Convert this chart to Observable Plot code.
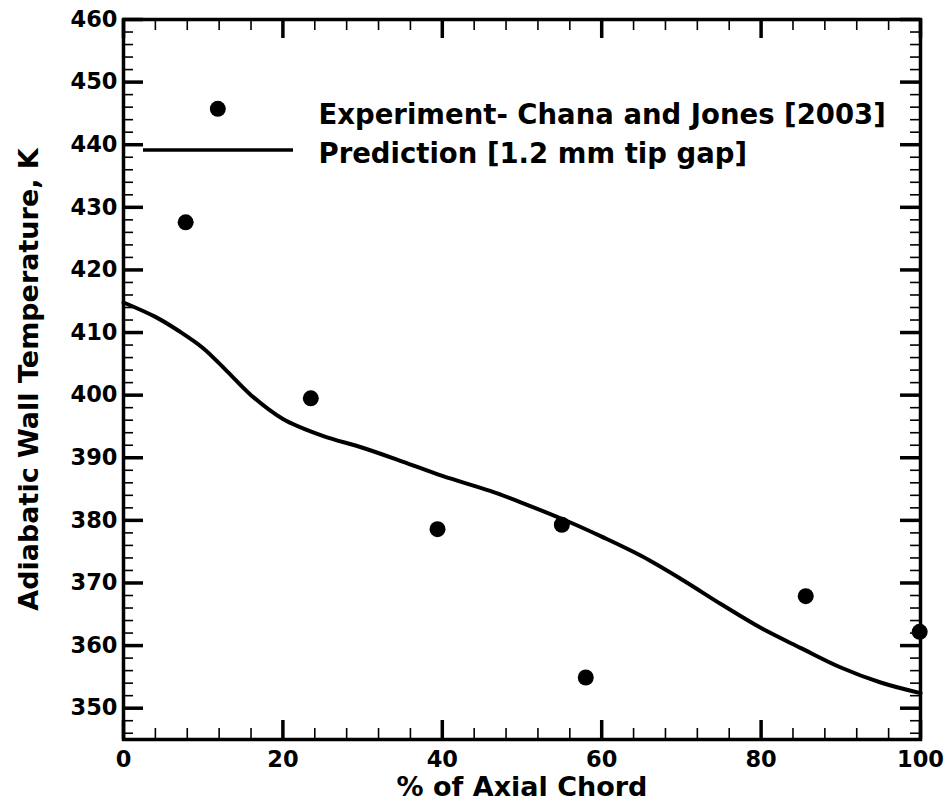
<!DOCTYPE html>
<html>
<head>
<meta charset="utf-8">
<script src="https://cdn.jsdelivr.net/npm/d3@7"></script>
<script src="https://cdn.jsdelivr.net/npm/@observablehq/plot@0.6"></script>
<style>
  html, body { margin: 0; padding: 0; background: #fff; }
  #chart { width: 948px; height: 808px; }
</style>
</head>
<body>
<div id="chart"></div>
<script>
// ---- data ----
const expX = [7.8, 23.5, 39.4, 55.0, 58.0, 85.6, 99.9];
const expY = [427.6, 399.5, 378.6, 379.3, 354.9, 367.9, 362.2];

const predX = [0, 4, 7, 10, 13, 16, 20, 25, 30, 35, 40, 46, 50, 56, 60, 65, 70, 75, 80, 85, 90, 95, 100];
const predY = [414.8, 412.5, 410.2, 407.5, 403.8, 400.0, 396.2, 393.5, 391.6, 389.4, 387.1, 384.7, 382.8, 379.7, 377.4, 374.3, 370.6, 366.6, 362.8, 359.6, 356.5, 354.1, 352.4];

const xTicks = [0, 20, 40, 60, 80, 100];
const yTicks = [350, 360, 370, 380, 390, 400, 410, 420, 430, 440, 450, 460];
const xMinorStep = 4;
const yMinorStep = 2;

const xTitle = "% of Axial Chord";
const yTitle = "Adiabatic Wall Temperature, K";
const legendLabels = ["Experiment- Chana and Jones [2003]", "Prediction [1.2 mm tip gap]"];

// ---- layout ----
const W = 948, H = 808;
const mL = 123, mR = 28, mT = 19, mB = 69;
const plotW = W - mL - mR, plotH = H - mT - mB;

const experiment = expX.map((x, i) => ({x, y: expY[i]}));
const prediction = predX.map((x, i) => ({x, y: predY[i]}));
const xMinor = d3.range(0, 100 + 1e-9, xMinorStep).filter(v => !xTicks.includes(v));
const yMinor = d3.range(346, 460 + 1e-9, yMinorStep).filter(v => !yTicks.includes(v));

const majorW = 3.5, minorW = 1.6;
const xMajLen = 19, xMinLen = 11, yMajLen = 20, yMinLen = 10;

const legendLine = () => {
  const g = d3.create("svg:g");
  g.append("line")
    .attr("x1", 143).attr("x2", 293)
    .attr("y1", 150).attr("y2", 150)
    .attr("stroke", "black").attr("stroke-width", 3.5);
  return g.node();
};

const chart = Plot.plot({
  width: W,
  height: H,
  marginLeft: mL, marginRight: mR, marginTop: mT, marginBottom: mB,
  style: {fontFamily: "'DejaVu Sans', sans-serif", fontWeight: "bold", fontSize: "22px", color: "black", background: "white"},
  x: {domain: [0, 100], axis: null},
  y: {domain: [345, 460], axis: null},
  marks: [
    // tick labels
    Plot.axisX({ticks: xTicks, tickSize: 0, tickPadding: 12, fontSize: 22.5, fontWeight: "bold", label: null, tickFormat: d => String(d)}),
    Plot.axisY({ticks: yTicks, tickSize: 0, tickPadding: 6, fontSize: 22.5, fontWeight: "bold", label: null, tickFormat: d => String(d)}),
    // inward ticks on all four sides
    Plot.tickX(xMinor, {x: d => d, insetTop: plotH - xMinLen, strokeWidth: minorW}),
    Plot.tickX(xMinor, {x: d => d, insetBottom: plotH - xMinLen, strokeWidth: minorW}),
    Plot.tickX(xTicks, {x: d => d, insetTop: plotH - xMajLen, strokeWidth: majorW}),
    Plot.tickX(xTicks, {x: d => d, insetBottom: plotH - xMajLen, strokeWidth: majorW}),
    Plot.tickY(yMinor, {y: d => d, insetRight: plotW - yMinLen, strokeWidth: minorW}),
    Plot.tickY(yMinor, {y: d => d, insetLeft: plotW - yMinLen, strokeWidth: minorW}),
    Plot.tickY(yTicks, {y: d => d, insetRight: plotW - yMajLen, strokeWidth: majorW}),
    Plot.tickY(yTicks, {y: d => d, insetLeft: plotW - yMajLen, strokeWidth: majorW}),
    Plot.frame({stroke: "black", strokeWidth: 3.5}),
    // data
    Plot.line(prediction, {x: "x", y: "y", curve: "catmull-rom", stroke: "black", strokeWidth: 4}),
    Plot.dot(experiment, {x: "x", y: "y", r: 8, fill: "black", stroke: "none"}),
    // legend
    Plot.dot([0], {frameAnchor: "top-left", dx: 217.3 - mL, dy: 108.3 - mT, r: 8, fill: "black", stroke: "none"}),
    legendLine,
    Plot.text([legendLabels[0]], {text: d => d, frameAnchor: "top-left", dx: 318 - mL, dy: 114.4 - mT, textAnchor: "start", lineAnchor: "middle", fontSize: 27.5, fontWeight: "bold"}),
    Plot.text([legendLabels[1]], {text: d => d, frameAnchor: "top-left", dx: 318 - mL, dy: 153.4 - mT, textAnchor: "start", lineAnchor: "middle", fontSize: 27.5, fontWeight: "bold"}),
    // axis titles
    Plot.text([xTitle], {text: d => d, frameAnchor: "bottom", dy: 47.5, textAnchor: "middle", lineAnchor: "middle", fontSize: 27, fontWeight: "bold"}),
    Plot.text([yTitle], {text: d => d, frameAnchor: "left", dx: -94, rotate: -90, textAnchor: "middle", lineAnchor: "middle", fontSize: 27, fontWeight: "bold"})
  ]
});

document.getElementById("chart").appendChild(chart);
</script>
</body>
</html>
